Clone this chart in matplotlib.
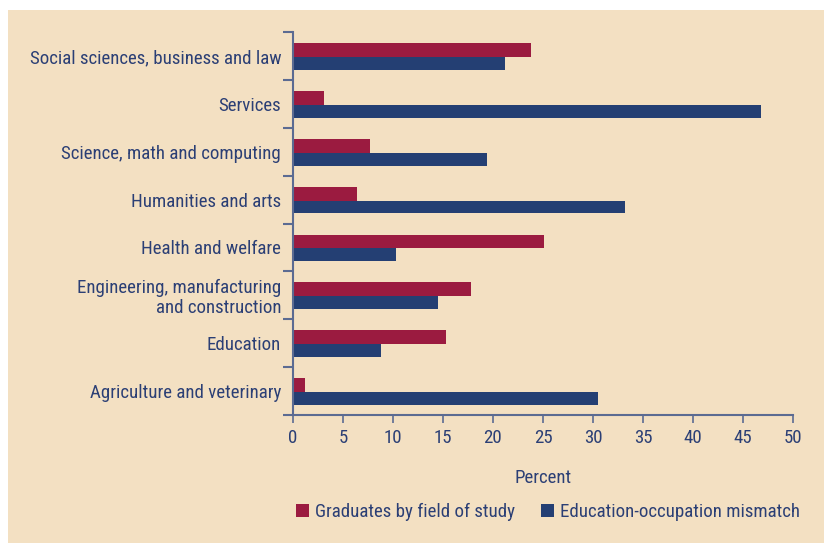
import numpy as np
import matplotlib.pyplot as plt
from matplotlib.patches import Rectangle
from matplotlib.font_manager import fontManager

fields = ["Social sciences, business and law", "Services", "Science, math and computing",
          "Humanities and arts", "Health and welfare",
          "Engineering, manufacturing\nand construction", "Education",
          "Agriculture and veterinary"]
graduates = [23.8, 3.1, 7.7, 6.4, 25.1, 17.8, 15.3, 1.2]
mismatch = [21.2, 46.8, 19.4, 33.2, 10.3, 14.5, 8.8, 30.5]
xticks = list(range(0, 55, 5))

red = "#9b1b40"
blue = "#243f73"
text_col = "#2b3f75"
spine_col = "#5b6b92"
panel = "#f3e0c2"

names = {f.name for f in fontManager.ttflist}
for fam in ['Liberation Sans Narrow', 'Roboto Condensed', 'Liberation Sans']:
    if fam in names:
        plt.rcParams['font.family'] = [fam, 'DejaVu Sans']
        break

fig = plt.figure(figsize=(8.24, 5.43), dpi=100)
fig.patch.set_facecolor("white")
fig.patches.append(Rectangle((8 / 824, 0), 1, 1 - 10 / 543, transform=fig.transFigure,
                             facecolor=panel, edgecolor="none", zorder=-5))

ax = fig.add_axes([293 / 824, 1 - 415 / 543, 500 / 824, 383 / 543])
ax.set_facecolor("none")

y = np.arange(len(fields))
ax.barh(y - 0.125, graduates, height=0.29, color=red, label="Graduates by field of study")
ax.barh(y + 0.155, mismatch, height=0.27, color=blue, label="Education-occupation mismatch")

ax.set_xlim(0, 50)
ax.set_ylim(len(fields) - 0.5, -0.5)
ax.set_xticks(xticks)
ax.set_yticks(y)
ax.set_yticklabels(fields, ha="right", linespacing=1.15)
ax.set_yticks(np.arange(len(fields) + 1) - 0.5, minor=True)

for s in ["top", "right"]:
    ax.spines[s].set_visible(False)
for s in ["left", "bottom"]:
    ax.spines[s].set_color(spine_col)
    ax.spines[s].set_linewidth(1.5)

fs = 13.6
ax.tick_params(axis="y", which="major", length=0, pad=8.5, labelsize=fs, labelcolor=text_col)
ax.tick_params(axis="y", which="minor", length=7, width=1.5, color=spine_col)
ax.tick_params(axis="x", length=6, width=1.2, color=spine_col, labelsize=fs,
               labelcolor=text_col, pad=4)

ax.set_xlabel("Percent", fontsize=fs, color=text_col, labelpad=16)

leg = fig.legend(loc="center", bbox_to_anchor=(548 / 824, 1 - 512 / 543), ncol=2,
                 frameon=False, fontsize=fs, labelcolor=text_col, handlelength=0.7,
                 handleheight=0.7, handletextpad=0.3, columnspacing=1.4)

fig.savefig("out.png", dpi=100)
